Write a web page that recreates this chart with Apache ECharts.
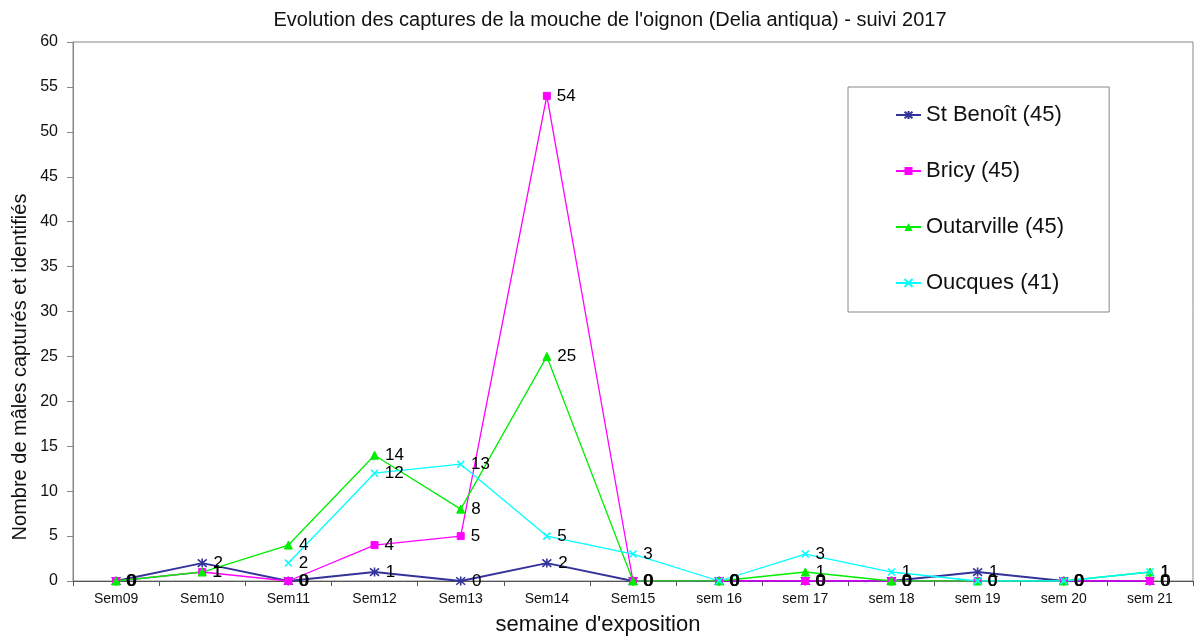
<!DOCTYPE html>
<html><head><meta charset="utf-8">
<script src="https://cdn.jsdelivr.net/npm/echarts@6/dist/echarts.min.js"></script>
<style>html,body{margin:0;padding:0;background:#fff}#c{width:1195px;height:637px}</style>
</head><body><div id="c"></div>
<script>
const categories = ['Sem09','Sem10','Sem11','Sem12','Sem13','Sem14','Sem15','sem 16','sem 17','sem 18','sem 19','sem 20','sem 21'];
const stBenoit   = [0, 2, 0, 1, 0, 2, 0, 0, 0, 0, 1, 0, 0];
const bricy      = [0, 1, 0, 4, 5, 54, 0, 0, 0, 0, 0, 0, 0];
const outarville = [0, 1, 4, 14, 8, 25, 0, 0, 1, 0, 0, 0, 1];
const oucques    = [null, null, 2, 12, 13, 5, 3, 0, 3, 1, 0, 0, 1];
const yTicks = [0,5,10,15,20,25,30,35,40,45,50,55,60];
const seriesNames = ['St Benoît (45)', 'Bricy (45)', 'Outarville (45)', 'Oucques (41)'];
const titleText = "Evolution des captures de la mouche de l'oignon (Delia antiqua) - suivi 2017";
const xName = "semaine d'exposition";
const yName = 'Nombre de mâles capturés et identifiés';

const FONT = '"Liberation Sans", Arial, sans-serif';
const xMark = 'path://M0,0L10,10M10,0L0,10';
const starMark = 'path://M0,0L10,10M10,0L0,10M5,-1L5,11';

function mk(name, data, color, symbol, size, lw, strokeSym) {
  return {
    name, type: 'line', data, symbol, symbolSize: size,
    connectNulls: false,
    lineStyle: { color, width: lw },
    itemStyle: strokeSym ? { color: 'rgba(0,0,0,0)', borderColor: color, borderWidth: 1.6 } : { color, borderColor: color },
    label: { show: true, position: 'right', distance: 6, color: '#000', fontFamily: FONT, fontSize: 17,
      formatter: p => p.value == null ? '' : String(p.value) },
    emphasis: { disabled: true },
    z: 2
  };
}

const chart = echarts.init(document.getElementById('c'), null, { renderer: 'canvas' });
chart.setOption({
  animation: false,
  backgroundColor: '#fff',
  title: {
    text: titleText,
    left: 605, top: 5, textAlign: 'center',
    textStyle: { fontFamily: FONT, fontSize: 20, fontWeight: 'normal', color: '#111' }
  },
  graphic: [
    { type: 'text', x: 598, y: 625, silent: true,
      style: { text: xName, fontFamily: FONT, fontSize: 22, fill: '#111', align: 'center', verticalAlign: 'middle' } },
    { type: 'text', x: 20, y: 367, rotation: Math.PI / 2, silent: true,
      style: { text: yName, fontFamily: FONT, fontSize: 20, fill: '#111', align: 'center', verticalAlign: 'middle' } }
  ],
  grid: { left: 73, right: 2, top: 42, bottom: 56, show: true, borderColor: '#888', borderWidth: 1, containLabel: false },
  legend: {
    orient: 'vertical', left: 848, top: 87,
    padding: [16, 45, 17, 47],
    itemGap: 32, itemWidth: 25, itemHeight: 10,
    borderColor: '#888', borderWidth: 1,
    textStyle: { fontFamily: FONT, fontSize: 22, color: '#111', lineHeight: 24 },
    data: seriesNames
  },
  xAxis: {
    type: 'category', data: categories, boundaryGap: true,
    axisLine: { lineStyle: { color: '#555', width: 1 } },
    axisTick: { show: true, alignWithLabel: false, length: 5, lineStyle: { color: '#555' } },
    axisLabel: { fontFamily: FONT, fontSize: 14, color: '#111', margin: 11 },
    splitLine: { show: false }
  },
  yAxis: {
    type: 'value', min: 0, max: 60, interval: 5,
    axisLine: { show: true, lineStyle: { color: '#888', width: 1 } },
    axisTick: { show: true, length: 6, lineStyle: { color: '#888' } },
    axisLabel: { fontFamily: FONT, fontSize: 16, color: '#111', margin: 15,
      formatter: v => yTicks.includes(v) ? String(v) : '' },
    splitLine: { show: false }
  },
  series: [
    mk(seriesNames[0], stBenoit, '#333399', starMark, 9, 1.8, true),
    mk(seriesNames[1], bricy, '#ff00ff', 'rect', 7, 1.3, false),
    mk(seriesNames[2], outarville, '#00ee00', 'triangle', 8, 1.3, false),
    mk(seriesNames[3], oucques, '#00ffff', xMark, 7, 1.3, true)
  ]
});
</script></body></html>
